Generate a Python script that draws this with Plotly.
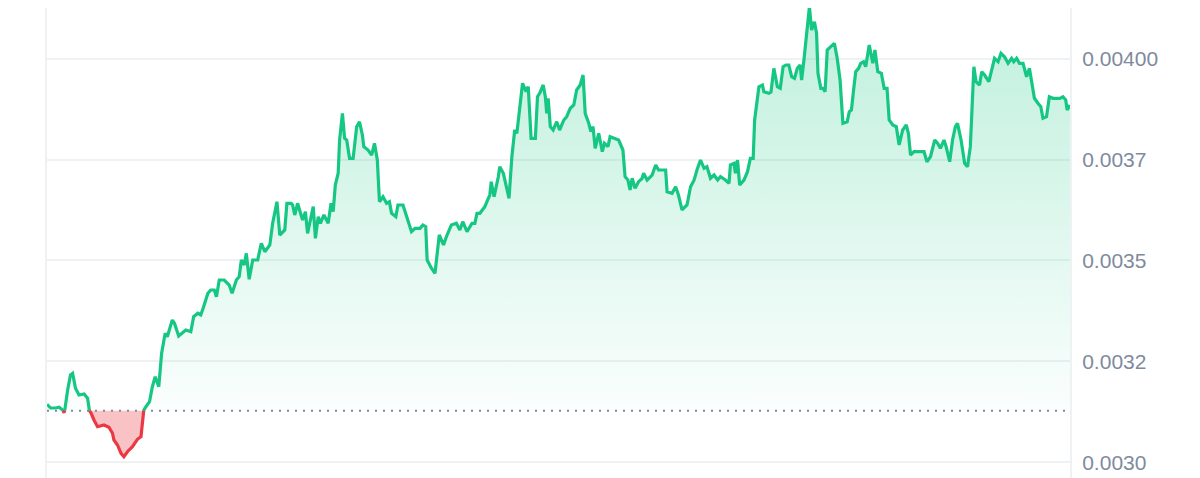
import plotly.graph_objects as go

# minutes since start of the 24h window, and price
minutes = [
    0, 5, 12, 17, 22, 24, 25, 29, 33, 36, 40, 45, 52, 57, 59, 62, 66, 71, 80, 87,
    92, 94, 99, 104, 108, 113, 120, 127, 132, 134, 136, 139, 144, 148, 152, 157, 161, 166, 169, 176,
    179, 185, 190, 195, 202, 206, 212, 216, 220, 226, 230, 235, 238, 242, 249, 256, 260, 266, 270, 273,
    277, 280, 284, 289, 296, 301, 306, 313, 317, 323, 327, 334, 337, 343, 345, 348, 352, 359, 363, 366,
    374, 377, 381, 384, 389, 395, 399, 402, 405, 409, 411, 415, 418, 421, 425, 430, 435, 439, 443, 445,
    451, 456, 460, 464, 467, 472, 477, 481, 484, 490, 493, 500, 506, 512, 517, 524, 528, 532, 534, 540,
    545, 551, 557, 561, 568, 575, 580, 584, 590, 597, 601, 604, 608, 615, 618, 622, 624, 628, 634, 636,
    641, 646, 649, 653, 657, 660, 665, 668, 673, 676, 680, 686, 689, 692, 697, 700, 702, 704, 707, 711,
    716, 720, 726, 730, 735, 740, 744, 749, 753, 756, 761, 764, 767, 770, 775, 780, 783, 788, 791, 797,
    803, 809, 812, 816, 819, 822, 826, 831, 836, 838, 843, 850, 855, 859, 864, 869, 871, 878, 883, 887,
    892, 899, 904, 909, 913, 918, 923, 927, 932, 937, 942, 946, 953, 958, 960, 965, 967, 970, 973, 979,
    984, 988, 992, 994, 1000, 1005, 1007, 1014, 1017, 1021, 1026, 1030, 1034, 1038, 1042, 1046, 1050, 1054, 1058, 1060,
    1063, 1067, 1071, 1074, 1078, 1081, 1083, 1087, 1090, 1093, 1096, 1101, 1106, 1110, 1114, 1118, 1124, 1127, 1130, 1133,
    1136, 1140, 1143, 1147, 1150, 1155, 1160, 1163, 1167, 1172, 1176, 1180, 1183, 1188, 1193, 1197, 1202, 1207, 1210, 1213,
    1218, 1225, 1232, 1236, 1241, 1247, 1251, 1255, 1260, 1263, 1268, 1272, 1276, 1279, 1284, 1289, 1293, 1297, 1301, 1302,
    1305, 1310, 1313, 1317, 1323, 1326, 1331, 1336, 1340, 1345, 1350, 1355, 1358, 1362, 1366, 1371, 1376, 1380, 1383, 1387,
    1392, 1396, 1399, 1404, 1408, 1413, 1418, 1423, 1427, 1431, 1433, 1437,
]

price = [
    0.0031441, 0.0031349, 0.0031349, 0.0031366, 0.0031299, 0.0031233, 0.0031299, 0.0031795, 0.0032166, 0.0032208,
    0.0031837, 0.0031671, 0.0031695, 0.0031589, 0.0031299, 0.0031218, 0.0031052, 0.0030886, 0.0030928, 0.0030871,
    0.0030723, 0.0030557, 0.0030433, 0.0030228, 0.0030144, 0.0030267, 0.0030391, 0.0030574, 0.0030639, 0.0030970,
    0.0031299, 0.0031381, 0.0031505, 0.0031876, 0.0032124, 0.0031876, 0.0032703, 0.0033198, 0.0033114, 0.0033527,
    0.0033445, 0.0033131, 0.0033198, 0.0033280, 0.0033238, 0.0033609, 0.0033693, 0.0033651, 0.0033856, 0.0034188,
    0.0034270, 0.0034270, 0.0034104, 0.0034517, 0.0034517, 0.0034393, 0.0034188, 0.0034517, 0.0034599, 0.0035012,
    0.0034889, 0.0035178, 0.0034535, 0.0035012, 0.0035012, 0.0035426, 0.0035218, 0.0035384, 0.0035921, 0.0036455,
    0.0035631, 0.0035755, 0.0036416, 0.0036416, 0.0036374, 0.0036126, 0.0036416, 0.0036002, 0.0036208, 0.0035673,
    0.0036332, 0.0035549, 0.0036084, 0.0035921, 0.0036126, 0.0035921, 0.0036416, 0.0036208, 0.0036869, 0.0037158,
    0.0037982, 0.0038643, 0.0038025, 0.0037982, 0.0037529, 0.0037529, 0.0038312, 0.0038435, 0.0038106, 0.0037817,
    0.0037735, 0.0037611, 0.0037901, 0.0037487, 0.0036455, 0.0036579, 0.0036416, 0.0036455, 0.0036168, 0.0036084,
    0.0036374, 0.0036374, 0.0036044, 0.0035713, 0.0035797, 0.0035797, 0.0035879, 0.0035837, 0.0035012, 0.0034807,
    0.0034683, 0.0035631, 0.0035384, 0.0035589, 0.0035879, 0.0035921, 0.0035755, 0.0035960, 0.0035713, 0.0035921,
    0.0035921, 0.0036168, 0.0036168, 0.0036332, 0.0036455, 0.0036621, 0.0036950, 0.0036579, 0.0037074, 0.0037322,
    0.0037158, 0.0036787, 0.0036540, 0.0037569, 0.0038230, 0.0038148, 0.0038973, 0.0039386, 0.0039178, 0.0039302,
    0.0038025, 0.0038025, 0.0039054, 0.0039138, 0.0039344, 0.0039054, 0.0038643, 0.0039015, 0.0038312, 0.0038230,
    0.0038435, 0.0038230, 0.0038478, 0.0038559, 0.0038767, 0.0038849, 0.0039220, 0.0039344, 0.0039591, 0.0038643,
    0.0038396, 0.0038188, 0.0038312, 0.0037777, 0.0038148, 0.0037693, 0.0037901, 0.0037817, 0.0038064, 0.0038025,
    0.0037982, 0.0037735, 0.0037074, 0.0036992, 0.0036745, 0.0037035, 0.0036787, 0.0036950, 0.0037035, 0.0037158,
    0.0036992, 0.0037116, 0.0037364, 0.0037240, 0.0037240, 0.0037240, 0.0036703, 0.0036663, 0.0036827, 0.0036621,
    0.0036250, 0.0036374, 0.0036827, 0.0036992, 0.0037240, 0.0037487, 0.0037282, 0.0037322, 0.0037035, 0.0037116,
    0.0036992, 0.0037074, 0.0036992, 0.0036911, 0.0037364, 0.0037406, 0.0037158, 0.0037487, 0.0036869, 0.0036992,
    0.0037198, 0.0037529, 0.0037529, 0.0038478, 0.0039302, 0.0039344, 0.0039178, 0.0039138, 0.0039171, 0.0039757,
    0.0039302, 0.0039262, 0.0039797, 0.0039839, 0.0039839, 0.0039549, 0.0039510, 0.0039757, 0.0039839, 0.0039468,
    0.0039921, 0.0040624, 0.0041280, 0.0040705, 0.0040911, 0.0040624, 0.0039633, 0.0039262, 0.0039262, 0.0039178,
    0.0040210, 0.0040292, 0.0040376, 0.0040005, 0.0039468, 0.0038396, 0.0038435, 0.0038683, 0.0038725, 0.0039220,
    0.0039673, 0.0039757, 0.0039881, 0.0039921, 0.0039797, 0.0040334, 0.0039881, 0.0040210, 0.0039673, 0.0039633,
    0.0039262, 0.0039262, 0.0038478, 0.0038354, 0.0038312, 0.0037859, 0.0038230, 0.0038354, 0.0038148, 0.0037611,
    0.0037693, 0.0037693, 0.0037693, 0.0037445, 0.0037569, 0.0037982, 0.0037901, 0.0037777, 0.0037982, 0.0037817,
    0.0037445, 0.0037982, 0.0038312, 0.0038396, 0.0037982, 0.0037406, 0.0037322, 0.0037817, 0.0039386, 0.0039797,
    0.0039426, 0.0039344, 0.0039673, 0.0039591, 0.0039426, 0.0039673, 0.0040005, 0.0039921, 0.0040128, 0.0040044,
    0.0039881, 0.0040005, 0.0039921, 0.0040005, 0.0039881, 0.0039881, 0.0039549, 0.0039757, 0.0039468, 0.0039015,
    0.0038891, 0.0038807, 0.0038520, 0.0038559, 0.0039054, 0.0039015, 0.0039015, 0.0039015, 0.0039054, 0.0038973,
    0.0038725, 0.0038849,
]

base_price = 0.0031282  # opening price, dotted reference line

tick_vals = [0.0030, 0.00325, 0.0035, 0.00375, 0.0040]
tick_text = ["0.0030", "0.0032", "0.0035", "0.0037", "0.00400"]

GREEN = "#16c784"
RED = "#ea3943"

# insert the crossing points with the baseline so the line can switch colour there
xs, ys = [], []
for i in range(len(minutes)):
    if i > 0:
        p0, p1 = price[i - 1], price[i]
        if (p0 - base_price) * (p1 - base_price) < 0:
            t = (base_price - p0) / (p1 - p0)
            xs.append(minutes[i - 1] + t * (minutes[i] - minutes[i - 1]))
            ys.append(base_price)
    xs.append(minutes[i])
    ys.append(price[i])

base_line = [base_price] * len(xs)
up_fill = [max(y, base_price) for y in ys]
down_fill = [min(y, base_price) for y in ys]
up_line = [y if y >= base_price else None for y in ys]
down_line = [y if y <= base_price else None for y in ys]

fig = go.Figure()

fig.add_trace(go.Scatter(x=xs, y=base_line, mode="lines", line=dict(width=0), hoverinfo="skip"))
fig.add_trace(go.Scatter(
    x=xs, y=up_fill, mode="lines", line=dict(width=0), fill="tonexty",
    fillgradient=dict(type="vertical",
                      colorscale=[[0, "rgba(22,199,132,0.02)"], [1, "rgba(22,199,132,0.28)"]]),
    hoverinfo="skip"))
fig.add_trace(go.Scatter(x=xs, y=base_line, mode="lines", line=dict(width=0), hoverinfo="skip"))
fig.add_trace(go.Scatter(
    x=xs, y=down_fill, mode="lines", line=dict(width=0), fill="tonexty",
    fillcolor="rgba(234,57,67,0.3)", hoverinfo="skip"))

# dotted opening-price line
fig.add_trace(go.Scatter(x=[minutes[0], minutes[-1] - 5], y=[base_price, base_price], mode="lines",
                         line=dict(color="#808a9d", width=2, dash="2px,6px"), hoverinfo="skip"))

fig.add_trace(go.Scatter(x=xs, y=up_line, mode="lines", connectgaps=False,
                         line=dict(color=GREEN, width=3.2)))
fig.add_trace(go.Scatter(x=xs, y=down_line, mode="lines", connectgaps=False,
                         line=dict(color=RED, width=3.2)))

# page body adds an 8px offset, so the figure is 8px smaller and the top sits at y=8
fig.update_layout(
    width=1192,
    height=470,
    margin=dict(l=39, r=130, t=0, b=0),
    plot_bgcolor="white",
    paper_bgcolor="white",
    showlegend=False,
    font=dict(family="Liberation Sans, Arial, sans-serif", size=21, color="#808a9d"),
    xaxis=dict(range=[minutes[0], minutes[-1]], visible=False),
    yaxis=dict(
        range=[0.0029616, 0.0041250],
        side="right",
        tickvals=tick_vals,
        ticktext=tick_text,
        showgrid=True,
        gridcolor="#eff2f5",
        gridwidth=1.5,
        zeroline=False,
        showline=True,
        linecolor="#eff2f5",
        linewidth=2,
        mirror=True,
        ticks="",
        ticklabelstandoff=6,
    ),
)

fig.write_html("out.html")
